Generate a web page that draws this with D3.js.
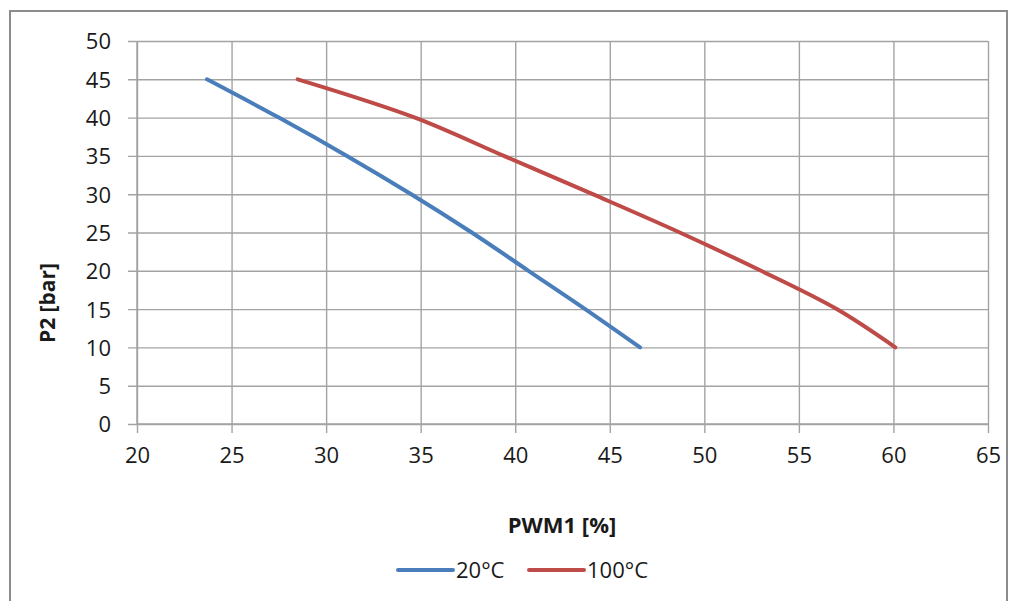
<!DOCTYPE html>
<html>
<head>
<meta charset="utf-8">
<script src="https://cdn.jsdelivr.net/npm/d3@7"></script>
<style>
  html, body { margin: 0; padding: 0; background: #ffffff; }
  svg text { font-family: "Open Sans", "Liberation Sans", sans-serif; fill: #1a1a1a; }
</style>
</head>
<body>
<svg id="chart" width="1021" height="601"></svg>
<script>
// P2 pressure against PWM1 duty cycle, at two temperatures
const pressure = [45, 40, 35, 30, 25, 20, 15, 10];
const pwm20 = [23.7, 27.5, 31.1, 34.5, 37.7, 40.7, 43.7, 46.6];
const pwm100 = [28.5, 34.7, 39.4, 44.1, 48.7, 53.0, 57.0, 60.1];
const seriesNames = ["20°C", "100°C"];
const seriesColors = ["#4a7ebb", "#be4b48"];
const xTicks = [20, 25, 30, 35, 40, 45, 50, 55, 60, 65];
const yTicks = [0, 5, 10, 15, 20, 25, 30, 35, 40, 45, 50];

const series = [pwm20, pwm100].map((xs, i) => ({
  name: seriesNames[i],
  color: seriesColors[i],
  points: xs.map((x, j) => ({ x, y: pressure[j] }))
}));

const svg = d3.select("#chart");
const plot = { left: 137, right: 988, top: 41, bottom: 424 };

// outer frame
svg.append("rect")
  .attr("x", 10).attr("y", 11)
  .attr("width", 997).attr("height", 600)
  .attr("fill", "#ffffff")
  .attr("stroke", "#8c8c8c").attr("stroke-width", 2);

const x = d3.scaleLinear().domain([20, 65]).range([plot.left, plot.right]);
const y = d3.scaleLinear().domain([0, 50]).range([plot.bottom, plot.top]);

const gridColor = "#a3a3a3";

// horizontal gridlines + y axis
const yAxis = svg.append("g")
  .attr("transform", `translate(${plot.left},0)`)
  .call(d3.axisLeft(y).tickValues(yTicks).tickSize(9).tickPadding(17));
yAxis.selectAll(".tick line")
  .attr("x1", plot.right - plot.left)
  .attr("x2", -9)
  .attr("stroke", gridColor).attr("stroke-width", 1.4);
yAxis.selectAll(".tick text")
  .attr("font-size", 22).attr("dy", "0.36em");

// vertical gridlines + x axis
const xAxis = svg.append("g")
  .attr("transform", `translate(0,${plot.bottom})`)
  .call(d3.axisBottom(x).tickValues(xTicks).tickSize(9).tickPadding(14));
xAxis.selectAll(".tick line")
  .attr("y1", -(plot.bottom - plot.top))
  .attr("y2", 9)
  .attr("stroke", gridColor).attr("stroke-width", 1.4);
xAxis.selectAll(".tick text").attr("font-size", 22);
svg.selectAll(".domain").remove();

// axis lines drawn on top of the grid
svg.append("line")
  .attr("x1", plot.left).attr("x2", plot.right)
  .attr("y1", y(0)).attr("y2", y(0))
  .attr("stroke", gridColor).attr("stroke-width", 1.4);
svg.append("line")
  .attr("x1", x(20)).attr("x2", x(20))
  .attr("y1", plot.top).attr("y2", plot.bottom)
  .attr("stroke", gridColor).attr("stroke-width", 1.4);

// smoothed data curves
const line = d3.line()
  .x(d => x(d.x))
  .y(d => y(d.y))
  .curve(d3.curveCatmullRom.alpha(0.5));

svg.append("g").selectAll("path")
  .data(series)
  .join("path")
  .attr("d", d => line(d.points))
  .attr("fill", "none")
  .attr("stroke", d => d.color)
  .attr("stroke-width", 4)
  .attr("stroke-linecap", "round")
  .attr("stroke-linejoin", "round");

// axis titles
svg.append("text")
  .attr("x", 562).attr("y", 533)
  .attr("text-anchor", "middle")
  .attr("font-size", 22).attr("font-weight", "bold")
  .text("PWM1 [%]");

svg.append("text")
  .attr("transform", "translate(55,303) rotate(-90)")
  .attr("text-anchor", "middle")
  .attr("font-size", 21).attr("font-weight", "bold")
  .text("P2 [bar]");

// legend
const legendItems = [
  { lineX: 398, textX: 456 },
  { lineX: 529, textX: 587 }
];
const legend = svg.append("g");
series.forEach((s, i) => {
  const item = legendItems[i];
  legend.append("line")
    .attr("x1", item.lineX).attr("x2", item.lineX + 55)
    .attr("y1", 570).attr("y2", 570)
    .attr("stroke", s.color).attr("stroke-width", 4)
    .attr("stroke-linecap", "round");
  legend.append("text")
    .attr("x", item.textX).attr("y", 578)
    .attr("font-size", 22)
    .text(s.name);
});
</script>
</body>
</html>
